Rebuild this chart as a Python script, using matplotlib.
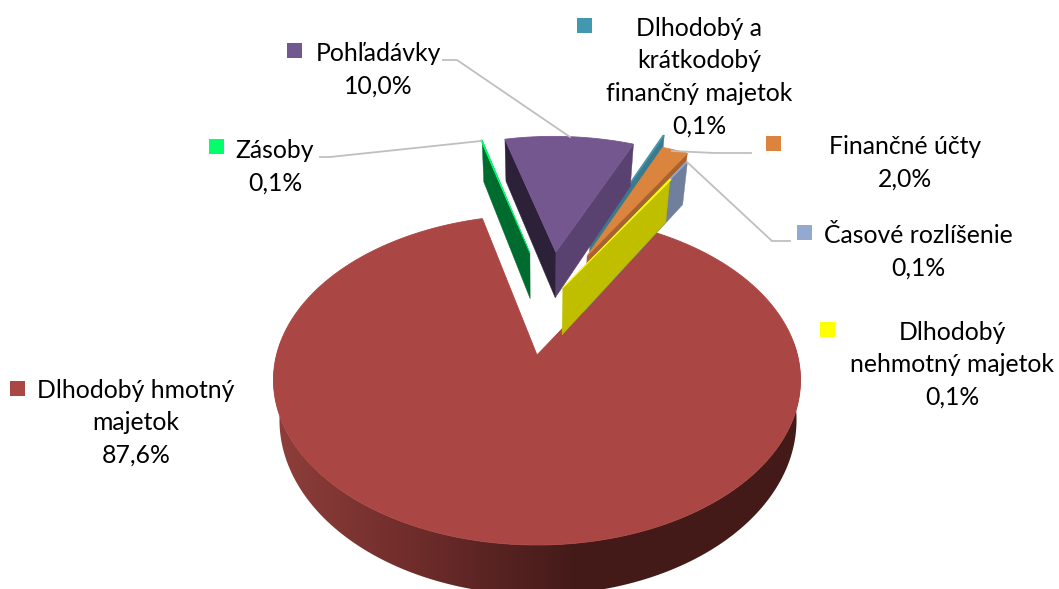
import numpy as np
import matplotlib
matplotlib.use("Agg")
import matplotlib.pyplot as plt
from matplotlib.patches import Polygon, Rectangle
from matplotlib.colors import LinearSegmentedColormap

categories = ["Dlhodobý nehmotný majetok", "Dlhodobý hmotný majetok", "Zásoby", "Pohľadávky",
              "Dlhodobý a krátkodobý finančný majetok", "Finančné účty", "Časové rozlíšenie"]
values = [0.1, 87.6, 0.1, 10.0, 0.1, 2.0, 0.1]
value_labels = ["0,1%", "87,6%", "0,1%", "10,0%", "0,1%", "2,0%", "0,1%"]

# style: order is the same as categories
top_colors = ["#ffff00", "#aa4643", "#00ff6a", "#755790", "#4198af", "#db843d", "#93a9cf"]
far_face = [None, None, "#006b2e", "#5a4270", "#3a7a8c", "#a8622f", "#6f7f9c"]
near_face = ["#bfbf00", None, None, "#2c2139", None, None, None]
explode = [(.106, .444), (0, 0), (-.03, .70), (.08, .707), (.228, .795), (.212, .678), (.20, .60)]
START = 30.36          # degrees clockwise from the top, where the first slice starts
draw_order = [1, 4, 5, 6, 3, 2, 0]

label_lines = [["Dlhodobý", "nehmotný majetok"], ["Dlhodobý hmotný", "majetok"], ["Zásoby"], ["Pohľadávky"],
               ["Dlhodobý a", "krátkodobý", "finančný majetok"], ["Finančné účty"], ["Časové rozlíšenie"]]
label_xy = [(952, 332.5), (136, 390.5), (275, 150.5), (378, 53.5), (699, 28.5), (905, 146.5), (918, 235.5)]
legend_sq = [(820, 322), (10, 381), (209, 139), (287, 43), (577, 18), (766, 136), (797, 225)]
leaders = [[(320, 157), (330, 157), (481, 141)],
           [(443, 60), (457, 60), (570, 137)],
           [(751, 153), (715, 153), (672, 151)],
           [(687, 162), (772, 241), (790, 241)]]

W, H = 1059, 589
fig = plt.figure(figsize=(W / 100, H / 100), dpi=100)
ax = fig.add_axes([0, 0, 1, 1])

CX, CY, A, B, K = 537.0, 355.0, 161.2, 260.5, 0.1515
XS = 0.968

def project(x, y):
    d = 1 + K * y
    return CX + B * x / d, CY - A * y / d

def lower(px, py):
    return CX + XS * (px - CX), py + 42 + 0.033 * (py - 140)

def lower_main(px, py):
    return 538 + 0.981 * (px - CX), 420 + 1.06 * (py - 380)

def pts(th_deg, ex, ey):
    t = np.radians(th_deg)
    return project(ex + np.sin(t), ey + np.cos(t))

def face(p, q, color, z):
    ax.add_patch(Polygon([p, q, lower(*q), lower(*p)], closed=True, fc=color, ec=color, lw=0.3, zorder=z))

frac = np.array(values) / sum(values) * 360
starts = START + np.concatenate([[0], np.cumsum(frac)[:-1]])

x0, x1 = 270, 805
wall_nodes = [(270, "#903f3b"), (420, "#6d2c2a"), (480, "#5c2524"), (570, "#451b19"), (805, "#441a18")]
wall_cmap = LinearSegmentedColormap.from_list("wall", [((x - x0) / (x1 - x0), c) for x, c in wall_nodes], N=512)

for z, i in enumerate(draw_order):
    z = 2 + z * 2
    a0, a1 = starts[i], starts[i] + frac[i]
    ex, ey = explode[i]
    apex = project(ex, ey)
    if i == 1:
        arc = [pts(t, ex, ey) for t in np.linspace(85, 275, 400)]
        wall = Polygon(arc + [lower_main(*p) for p in arc[::-1]], closed=True, fc="none", ec="none",
                       transform=ax.transData)
        ax.add_patch(wall)
        im = ax.imshow(np.linspace(0, 1, 512)[None, :], cmap=wall_cmap, aspect="auto",
                       extent=(x0, x1, 620, 340), interpolation="bilinear", zorder=z)
        im.set_clip_path(wall)
    if i == 3:
        face(apex, pts(a1, ex, ey), far_face[i], z)
        face(apex, pts(a0, ex, ey), near_face[i], z)
    elif far_face[i]:
        face(apex, pts(a1, ex, ey), far_face[i], z)
    elif near_face[i]:
        face(apex, pts(a0, ex, ey), near_face[i], z)
    ang = np.linspace(a0, a1, max(3, int((a1 - a0) * 2)))
    poly = [apex] + [pts(t, ex, ey) for t in ang]
    ax.add_patch(Polygon(poly, closed=True, fc=top_colors[i], ec=top_colors[i], lw=0.6, zorder=z + 1))

ax.set_xlim(0, W); ax.set_ylim(H, 0); ax.axis("off")

for path in leaders:
    xs, ys = zip(*path)
    ax.plot(xs, ys, color="#bfbfbf", lw=1.3, zorder=30, solid_joinstyle="miter")

FONT = "Lato"
for i, lines in enumerate(label_lines):
    x, y = label_xy[i]
    for j, s in enumerate(lines + [value_labels[i]]):
        ax.text(x, y + j * 32.5, s, ha="center", va="center", fontsize=17.8, family=FONT, color="#000000", zorder=40)
    sx, sy = legend_sq[i]
    ax.add_patch(Rectangle((sx, sy), 15, 15, fc=top_colors[i] if i != 3 else "#71588f", ec="none", zorder=40))

fig.savefig("out.png", dpi=100)
